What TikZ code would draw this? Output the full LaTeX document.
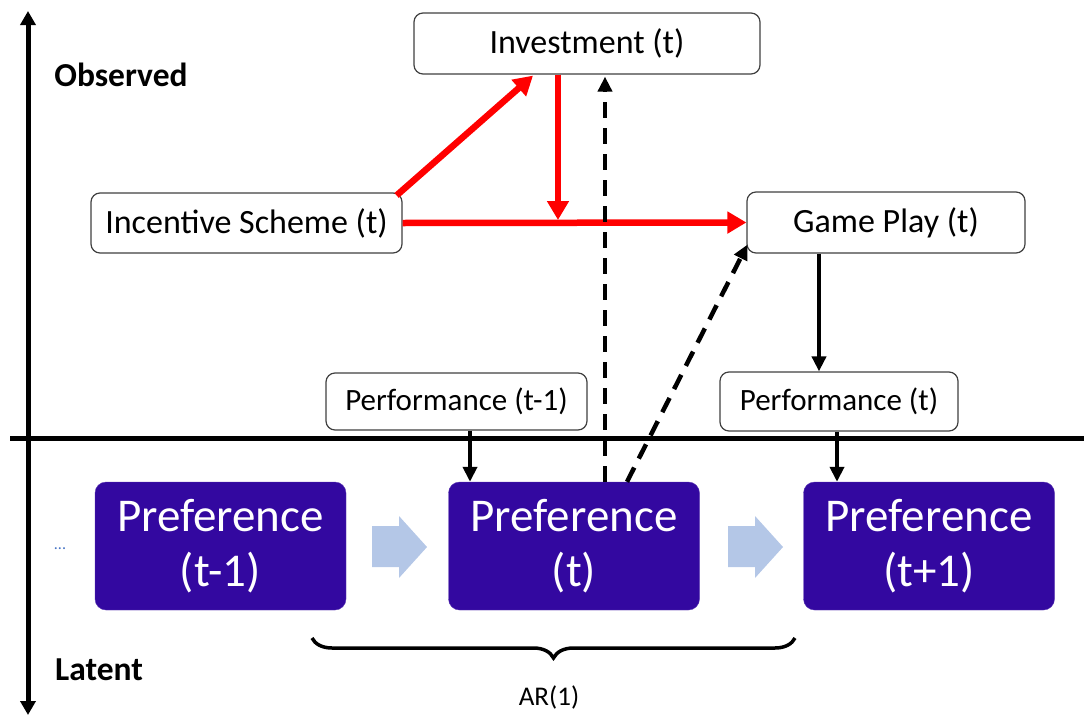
\documentclass[tikz,border=0pt]{standalone}
\usepackage{fontspec}
\setmainfont{Carlito}
\usetikzlibrary{arrows.meta,decorations.pathreplacing,calc}
\definecolor{pref}{RGB}{51,8,160}
\definecolor{blk}{RGB}{180,199,231}
\definecolor{dotc}{RGB}{68,114,196}
\begin{document}
\begin{tikzpicture}[x=1pt,y=-1pt,
 obox/.style={draw=black!75, line width=1.2pt, rounded corners=9pt, fill=white, inner sep=0pt},
 pbox/.style={fill=pref, draw=pref!80!white, rounded corners=11pt, text=white, minimum width=251pt, minimum height=128pt, align=center, inner sep=0pt, font=\fontsize{47}{55}\selectfont},
 redarrow/.style={red, line width=6.5pt, -{Triangle[length=19pt,width=21pt]}},
 blarrow/.style={black, line width=4pt, -{Triangle[length=15pt,width=14pt]}},
 dasharrow/.style={blarrow, line width=4.5pt, dash pattern=on 16pt off 10pt},
 bigf/.style={font=\fontsize{34}{40}\selectfont},
 midf/.style={font=\fontsize{31}{36}\selectfont},
 axf/.style={font=\bfseries\fontsize{33.5}{38}\selectfont},
]
\useasboundingbox (0,0) rectangle (1084,715);
% axes
\coordinate (axtop) at (28,11);
\coordinate (axbot) at (28,715);
\coordinate (hl) at (10,438);
\coordinate (hr) at (1084,438);
\draw[line width=5pt, {Triangle[length=14pt,width=15pt]}-{Triangle[length=14pt,width=15pt]}] (axtop) -- (axbot);
\draw[line width=5pt] (hl) -- (hr);
\node[axf] (obs) at (121,75) {Observed};
\node[axf] (lat) at (99,670) {Latent};
% observed boxes
\node[obox, bigf, minimum width=346pt, minimum height=61pt] (inv) at (587,43.5) {Investment (t)};
\node[obox, bigf, minimum width=311pt, minimum height=60pt] (inc) at (246.5,223) {Incentive Scheme (t)};
\node[obox, bigf, minimum width=278pt, minimum height=61pt] (gp) at (886,222.5) {Game Play (t)};
\node[obox, midf, minimum width=261pt, minimum height=57pt] (pfa) at (456.5,401.5) {Performance (t-1)};
\node[obox, midf, minimum width=238pt, minimum height=59pt] (pfb) at (839,401.5) {Performance (t)};
% latent boxes
\node[pbox] (pra) at (220.5,546) {Preference\\(t-1)};
\node[pbox] (prb) at (574,546) {Preference\\(t)};
\node[pbox] (prc) at (929,546) {Preference\\(t+1)};
\node[text=dotc, font=\fontsize{16}{18}\selectfont, anchor=base] (dots) at (60,549) {...};
% block arrows
\fill[blk] (372,526) -- (399,526) -- (399,516) -- (427,547) -- (399,578) -- (399,567) -- (372,567) -- cycle;
\fill[blk] (728,526) -- (755,526) -- (755,516) -- (783,547) -- (755,578) -- (755,567) -- (728,567) -- cycle;
% red arrows
\coordinate (join) at (558,220);
\draw[redarrow] ($(inc.north east)+(-6,3)$) -- ($(inv.south)+(-54,1)$);
\draw[redarrow] ($(inv.south)+(-29,0)$) -- (join);
\draw[redarrow] (inc.east) -- (gp.west);
% dashed arrows
\draw[dasharrow] ($(prb.north)+(31,0)$) -- ($(inv.south)+(18,2)$);
\draw[dasharrow] ($(prb.north)+(53,0)$) -- ($(gp.south west)+(1,-9)$);
% black arrows
\draw[blarrow] ($(gp.south)+(-67,0)$) -- ($(pfb.north)+(-20,0)$);
\draw[blarrow] ($(pfa.south)+(13.5,0)$) -- ($(prb.north)+(-104,0)$);
\draw[blarrow] ($(pfb.south)+(-2,0)$) -- ($(prc.north)+(-92,0)$);
% brace
\coordinate (bl) at (312,638);
\coordinate (br) at (795,638);
\draw[line width=3.5pt, decorate, decoration={brace, mirror, amplitude=20pt}] (bl) -- (br);
\node[font=\fontsize{27}{32}\selectfont] (ar) at (549,697) {AR(1)};
\end{tikzpicture}
\end{document}
